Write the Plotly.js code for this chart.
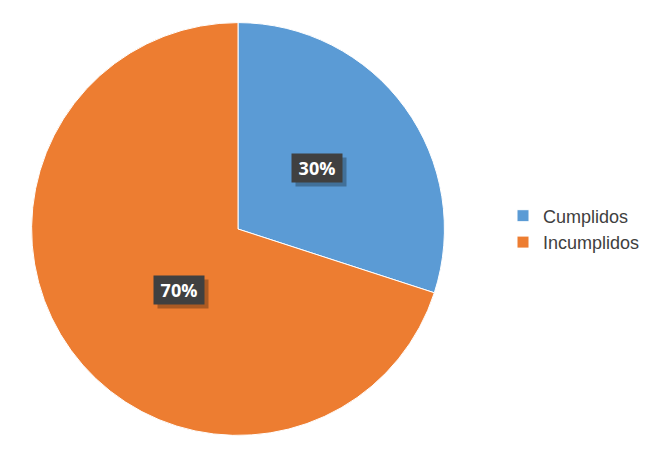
<!DOCTYPE html>
<html><head><meta charset="utf-8">
<script src="https://cdn.plot.ly/plotly-3.0.1.min.js"></script>
<style>html,body{margin:0;padding:0;background:#fff}#chart{width:645px;height:458px}</style>
</head><body><div id="chart"></div>
<script>
const categories = ["Cumplidos", "Incumplidos"];
const values = [30, 70];
const colors = ["#5B9BD5", "#ED7D31"];

const W = 645, H = 458;
const cx = 238, cy = 229, R = 206;
// domain slightly enlarged to compensate plotly's inner padding
const Rd = 209, cxd = 241;
const dom = {x: [(cxd - Rd) / W, (cxd + Rd) / W], y: [(H - cy - Rd) / H, (H - cy + Rd) / H]};

const total = values.reduce((a, b) => a + b, 0);
let cum = 0;
const annotations = [];
values.forEach((v, i) => {
  const mid = (cum + v / 2) / total * 2 * Math.PI;
  cum += v;
  const px = cx + 0.5 * R * Math.sin(mid);
  const py = cy - 0.5 * R * Math.cos(mid);
  const txt = Math.round(v / total * 100) + "%";
  // shadow box
  annotations.push({x: (px + 4) / W, y: 1 - (py + 4) / H, xref: "paper", yref: "paper", showarrow: false,
    text: " ", width: 50, height: 28, font: {size: 12}, bgcolor: "rgba(0,0,0,0.28)", borderpad: 0});
  annotations.push({x: px / W, y: 1 - py / H, xref: "paper", yref: "paper", showarrow: false,
    text: "<b>" + txt + "</b>", width: 50, height: 28, font: {family: "Open Sans", size: 18, color: "#ffffff"}, bgcolor: "#404040", borderpad: 0});
});

const data = [{
  type: "pie",
  labels: categories,
  values: values,
  sort: false,
  direction: "clockwise",
  rotation: 0,
  marker: {colors: colors, line: {color: "#ffffff", width: 1}},
  textinfo: "none",
  hoverinfo: "label+percent",
  domain: dom
}];

const layout = {
  width: W, height: H,
  margin: {l: 0, r: 0, t: 0, b: 0},
  paper_bgcolor: "#ffffff",
  showlegend: true,
  legend: {x: 0.79, y: 0.5, xanchor: "left", yanchor: "middle",
    font: {family: "Liberation Sans", size: 18, color: "#404040"}, itemwidth: 30},
  annotations: annotations
};
Plotly.newPlot("chart", data, layout, {displayModeBar: false, staticPlot: true});
</script></body></html>
